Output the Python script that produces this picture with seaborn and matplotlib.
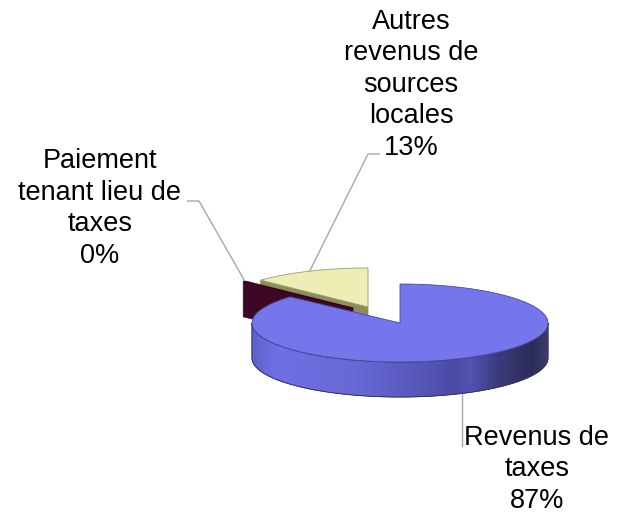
import numpy as np
import matplotlib
matplotlib.use("Agg")
import matplotlib.pyplot as plt
import seaborn as sns
from matplotlib.patches import Polygon
from matplotlib.colors import LinearSegmentedColormap

# ---- data ----
categories = ["Revenus de taxes", "Paiement tenant lieu de taxes",
              "Autres revenus de sources locales"]
values = [86.7, 0.4, 12.9]
label_lines = [["Revenus de", "taxes"],
               ["Paiement", "tenant lieu de", "taxes"],
               ["Autres", "revenus de", "sources", "locales"]]

sns.set_theme(style="white")
plt.rcParams["font.family"] = ["Liberation Sans", "DejaVu Sans"]

fig = plt.figure(figsize=(6.19, 5.15), dpi=100)
ax = fig.add_axes([0, 0, 1, 1])
ax.set_xlim(0, 619)
ax.set_ylim(515, 0)
ax.axis("off")

# ---- layout / style ----
CX, CY, RX, RY, DEPTH = 400, 323, 148, 39, 35
offsets = [(0, 0), (-47, -15), (-32, -16)]
top_colors = ["#7575EC", "#4A1030", "#EEEEB4"]
top_edges = ["#4a4a9a", "#2a0618", "#9a9a70"]
face_colors = ["#5c5cc4", "#3C0826", "#8C8C5C"]
draw_order = [2, 1, 0]

wall_cmap = LinearSegmentedColormap.from_list(
    "wall",
    [(0.0, "#6060cc"), (0.08, "#7070e4"), (0.35, "#6868d6"),
     (0.55, "#5858bc"), (0.68, "#4c4ca6"), (0.74, "#5252b0"),
     (0.84, "#3a3a7a"), (0.95, "#2c2c58"), (1.0, "#3c3c6c")])

total = sum(values)
bounds = []
start = 90.0
for v in values:
    sweep = v / total * 360.0
    bounds.append((start - sweep, start))
    start -= sweep


def pt(cx, cy, t, dz=0.0):
    r = np.radians(t)
    return (cx + RX * np.cos(r), cy - RY * np.sin(r) + dz)


def arc(cx, cy, t0, t1, dz=0.0, n=120):
    ts = np.linspace(t0, t1, n)
    return [pt(cx, cy, t, dz) for t in ts]


z = 2
for i in draw_order:
    lo, hi = bounds[i]
    ox, oy = offsets[i]
    cx, cy = CX + ox, CY + oy
    apex = (cx, cy)
    # cut faces
    for t, vis in ((hi, np.cos(np.radians(hi)) < -1e-6),
                   (lo, np.cos(np.radians(lo)) > 1e-6)):
        if vis:
            rim = pt(cx, cy, t)
            poly = [apex, rim, (rim[0], rim[1] + DEPTH), (apex[0], apex[1] + DEPTH)]
            ax.add_patch(Polygon(poly, closed=True, facecolor=face_colors[i],
                                 edgecolor=face_colors[i], lw=0.5, zorder=z))
            z += 1
    # front outer wall
    for k in (-1, 0, 1):
        a0, a1 = max(lo, -180 + 360 * k), min(hi, 360 * k)
        if a1 - a0 > 0.01:
            top = arc(cx, cy, a0, a1)
            bot = arc(cx, cy, a1, a0, DEPTH)
            wall = Polygon(top + bot, closed=True, facecolor=face_colors[i],
                           edgecolor="#303060", lw=0.6, zorder=z)
            ax.add_patch(wall)
            z += 1
            if i == 0:
                grad = np.linspace(0, 1, 400).reshape(1, -1)
                im = ax.imshow(grad, cmap=wall_cmap, aspect="auto",
                               extent=(cx - RX, cx + RX, cy + RY + DEPTH + 2, cy - 2),
                               zorder=z, interpolation="bilinear")
                im.set_clip_path(wall)
                z += 1
                ax.add_patch(Polygon(top + bot, closed=True, facecolor="none",
                                     edgecolor="#30305a", lw=0.6, zorder=z))
                z += 1
    # top surface
    toppoly = [apex] + arc(cx, cy, lo, hi)
    ax.add_patch(Polygon(toppoly, closed=True, facecolor=top_colors[i],
                         edgecolor=top_edges[i], lw=0.6, zorder=z))
    z += 1

# ---- labels and leader lines ----
line_kw = dict(color="#A6A6A6", lw=1.0, zorder=1, solid_capstyle="butt")
text_kw = dict(fontsize=19.5, ha="center", va="baseline", linespacing=1.28,
               color="black", zorder=50)


def pct(v):
    return f"{int(round(v / total * 100))}%"


# Revenus de taxes (blue)
bx, by = pt(CX, CY, -65.2, DEPTH)
ax.plot([bx, bx], [by, 447], **line_kw)
ax.text(537, 508, "\n".join(label_lines[0] + [pct(values[0])]), **text_kw)

# Paiement tenant lieu de taxes (maroon)
mlo, mhi = bounds[1]
mx, my = pt(CX + offsets[1][0], CY + offsets[1][1], mhi)
ax.plot([187, 199, mx + 2], [201, 201, my], **line_kw)
ax.text(100, 263, "\n".join(label_lines[1] + [pct(values[1])]), **text_kw)

# Autres revenus (yellow)
ylo, yhi = bounds[2]
yx, yy = pt(CX + offsets[2][0], CY + offsets[2][1], (ylo + yhi) / 2)
ax.plot([380, 368, yx], [154, 154, yy], **line_kw)
ax.text(411, 155, "\n".join(label_lines[2] + [pct(values[2])]), **text_kw)

fig.savefig("out.png", dpi=100)
